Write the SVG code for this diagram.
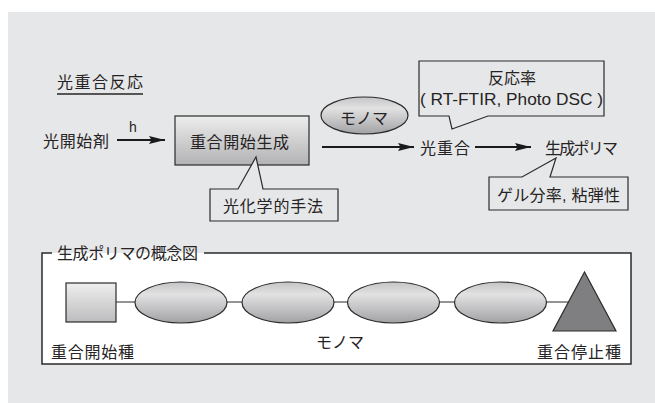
<svg xmlns="http://www.w3.org/2000/svg" width="655" height="403" viewBox="0 0 655 403">
<defs>
<style>
.t{font-family:"Liberation Sans","Noto Sans CJK JP",sans-serif;fill:#262324;font-size:16px}
.lat{font-family:"Liberation Sans",Arial,sans-serif;fill:#262324}
.edge{stroke:#1a1a1a;stroke-width:2;fill:none}
.callout{fill:#e6e7e8;stroke:#2b2b2b;stroke-width:1.2}
.shape{stroke:#2b2b2b;stroke-width:1.2}
</style>
<linearGradient id="gBox" x1="0" y1="0" x2="0" y2="1">
<stop offset="0" stop-color="#ededed"/>
<stop offset="1" stop-color="#b2b2b4"/>
</linearGradient>
<linearGradient id="gEll" x1="0" y1="0" x2="0" y2="1">
<stop offset="0" stop-color="#c4c4c6"/>
<stop offset="0.3" stop-color="#e2e2e3"/>
<stop offset="1" stop-color="#a2a2a5"/>
</linearGradient>
<linearGradient id="gSq" x1="0" y1="0" x2="0" y2="1">
<stop offset="0" stop-color="#efefef"/>
<stop offset="1" stop-color="#bcbcbe"/>
</linearGradient>
<marker id="ah" markerUnits="userSpaceOnUse" markerWidth="17" markerHeight="9" refX="16" refY="4" orient="auto">
<path d="M0,0 L16,4 L0,8 L2.5,4 Z" fill="#1a1a1a"/>
</marker>
</defs>

<rect x="8" y="12" width="647" height="391" fill="#e6e7e8"/>

<g id="title">
<text class="t" x="57" y="88" font-size="15" textLength="86" lengthAdjust="spacing">光重合反応</text>
<line x1="57" y1="94" x2="143" y2="94" stroke="#262324" stroke-width="1.5"/>
</g>

<g id="connectors">
<line class="edge" x1="117" y1="140" x2="165" y2="140" marker-end="url(#ah)"/>
<line class="edge" x1="322" y1="147" x2="414" y2="147" marker-end="url(#ah)"/>
<line class="edge" x1="475" y1="147" x2="531" y2="147" marker-end="url(#ah)"/>
</g>

<g id="photoinitiator">
<text class="t" x="43" y="147" textLength="66" lengthAdjust="spacing">光開始剤</text>
<text class="lat" x="129" y="132" font-size="14">h</text>
</g>

<g id="initiation">
<rect class="shape" x="175" y="116" width="134" height="49" fill="url(#gBox)"/>
<text class="t" x="190" y="148" textLength="99" lengthAdjust="spacing">重合開始生成</text>
</g>

<g id="callout-photochem">
<path class="callout" d="M210,189 H238 L256,157 L263,189 H338 V221 H210 Z"/>
<text class="t" x="223" y="212" textLength="100" lengthAdjust="spacing">光化学的手法</text>
</g>

<g id="monomer-top">
<ellipse class="shape" cx="364.5" cy="115.5" rx="43.5" ry="18.5" fill="url(#gEll)"/>
<text class="t" x="364" y="123.5" text-anchor="middle">モノマ</text>
</g>

<g id="callout-rate">
<path class="callout" d="M419,61 H604 V116 H488 L452,129 L449,116 H419 Z"/>
<text class="t" x="512" y="84" text-anchor="middle">反応率</text>
<text class="lat" x="420" y="104.5" font-size="17" textLength="183" lengthAdjust="spacingAndGlyphs">( RT-FTIR, Photo DSC )</text>
</g>

<g id="photopolymerization">
<text class="t" x="420" y="154" textLength="50" lengthAdjust="spacing">光重合</text>
</g>

<g id="polymer">
<text class="t" x="545" y="154" textLength="73" lengthAdjust="spacing">生成ポリマ</text>
</g>

<g id="callout-gel">
<path class="callout" d="M489,177 H522 L556,158 L550,177 H628 V210 H489 Z"/>
<text class="t" x="497" y="201" textLength="123" lengthAdjust="spacing">ゲル分率, 粘弾性</text>
</g>

<g id="concept-frame">
<rect x="42" y="253" width="589" height="111" fill="#ffffff"/>
<path d="M52,253 H42 V364 H631 V253 H204" fill="none" stroke="#2b2b2b" stroke-width="1.5"/>
<text class="t" x="57" y="259" textLength="141" lengthAdjust="spacing">生成ポリマの概念図</text>
</g>

<g id="chain-connectors">
<line x1="116" y1="302" x2="570" y2="302" stroke="#2b2b2b" stroke-width="1.2"/>
</g>

<g id="initiator-species">
<rect class="shape" x="66" y="283" width="50" height="39" fill="url(#gSq)"/>
<text class="t" x="51" y="358" textLength="83" lengthAdjust="spacing">重合開始種</text>
</g>

<g id="monomer-1"><ellipse class="shape" cx="181" cy="302.5" rx="46" ry="20.5" fill="url(#gEll)"/></g>
<g id="monomer-2"><ellipse class="shape" cx="288" cy="302.5" rx="46" ry="20.5" fill="url(#gEll)"/></g>
<g id="monomer-3"><ellipse class="shape" cx="393.5" cy="302.5" rx="46" ry="20.5" fill="url(#gEll)"/></g>
<g id="monomer-4"><ellipse class="shape" cx="500.5" cy="302.5" rx="46" ry="20.5" fill="url(#gEll)"/></g>

<g id="monomer-label">
<text class="t" x="340" y="348" text-anchor="middle">モノマ</text>
</g>

<g id="terminator-species">
<polygon class="shape" points="584.5,272 553,331 616,331" fill="#7f7f81"/>
<text class="t" x="537" y="358" textLength="84" lengthAdjust="spacing">重合停止種</text>
</g>
</svg>
